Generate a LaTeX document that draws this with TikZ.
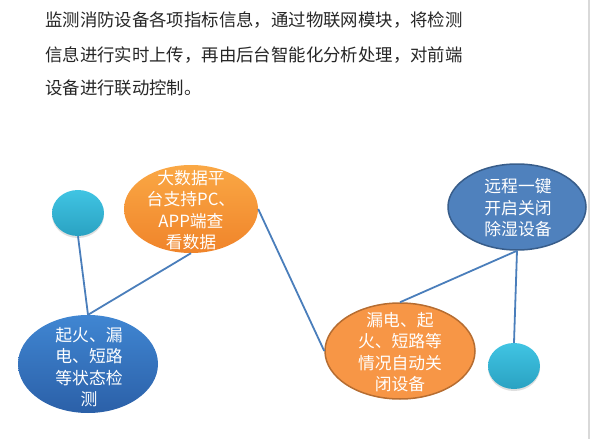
\documentclass[tikz,border=0pt]{standalone}
\usepackage{fontspec}
\newfontfamily\cjk{Noto Sans CJK SC}
\usetikzlibrary{shapes.geometric,shadows}
\definecolor{linkblue}{HTML}{4A7EBB}
\definecolor{cyantop}{HTML}{40C4E3}
\definecolor{cyanbot}{HTML}{2AA2C2}
\definecolor{bluetop}{HTML}{4086D2}
\definecolor{bluebot}{HTML}{2B60A8}
\definecolor{orgtop}{HTML}{FAA845}
\definecolor{orgbot}{HTML}{F0842A}
\definecolor{blue2fill}{HTML}{4F81BD}
\definecolor{blue2draw}{HTML}{385D8A}
\definecolor{org2fill}{HTML}{F79646}
\definecolor{org2draw}{HTML}{B66D31}
\tikzset{
  blob/.style={ellipse, inner sep=0pt},
  dot/.style={blob, minimum width=52pt, minimum height=46pt, top color=cyantop, bottom color=cyanbot,
    drop shadow={opacity=0.25, shadow xshift=0pt, shadow yshift=-2pt}},
  intext/.style={text=white, font=\cjk\fontsize{16.8}{21.5}\selectfont, align=center, inner sep=0pt},
  link/.style={draw=linkblue, line width=1.8pt},
  para/.style={anchor=west, text=black!85, font=\cjk\fontsize{17.4}{20}\selectfont, inner sep=0pt}
}
\begin{document}
\begin{tikzpicture}[x=1pt,y=-1pt]
\useasboundingbox (0,0) rectangle (590,439);
\draw[black!15, line width=1.2pt] (589,0) -- (589,439);
% paragraph
\node[para] (p1) at (45,20) {监测消防设备各项指标信息，通过物联网模块，将检测};
\node[para] (p2) at (45,55) {信息进行实时上传，再由后台智能化分析处理，对前端};
\node[para] (p3) at (45,88) {设备进行联动控制。};
% shapes
\node[dot] (c1) at (78,213) {};
\node[dot] (c2) at (514,366) {};
\node[blob, minimum width=134pt, minimum height=88pt, top color=orgtop, bottom color=orgbot] (o1) at (191,209) {};
\node[blob, minimum width=140pt, minimum height=98pt, top color=bluetop, bottom color=bluebot] (b1) at (88,364) {};
\node[blob, minimum width=138pt, minimum height=86pt, fill=blue2fill, draw=blue2draw, line width=1.5pt] (b2) at (517,207) {};
\node[blob, minimum width=150pt, minimum height=96pt, fill=org2fill, draw=org2draw, line width=1.5pt] (o2) at (400,351) {};
% connectors
\draw[link] (c1.south) -- (b1.north);
\draw[link] (o1.south) -- (b1.north);
\draw[link] (o1.east) -- (o2.west);
\draw[link] (b2.south) -- (o2.north);
\draw[link] (b2.south) -- (c2.north);
% texts
\node[intext] (t1) at (191,210) {大数据平\\台支持PC、\\APP端查\\看数据};
\node[intext] (t2) at (89,367) {起火、漏\\电、短路\\等状态检\\测};
\node[intext] (t3) at (518,208) {远程一键\\开启关闭\\除湿设备};
\node[intext] (t4) at (400,352) {漏电、起\\火、短路等\\情况自动关\\闭设备};
\end{tikzpicture}
\end{document}
